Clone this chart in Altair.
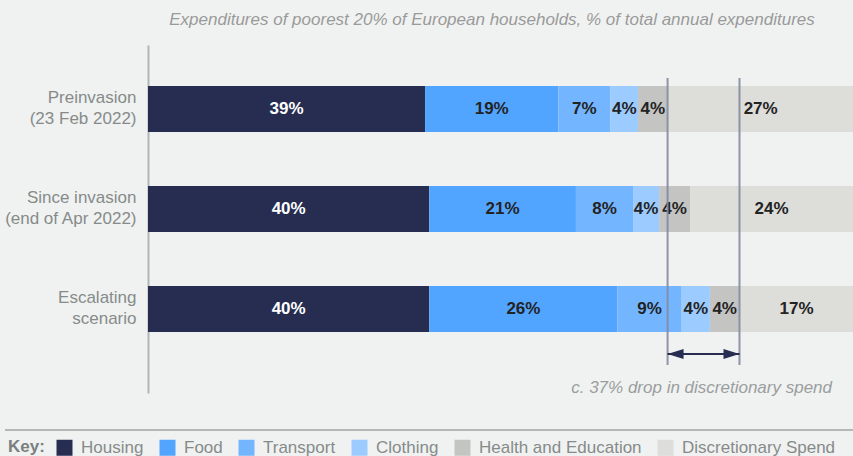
import altair as alt
import pandas as pd

# ---- data ----
scenarios = ["Preinvasion|(23 Feb 2022)", "Since invasion|(end of Apr 2022)", "Escalating|scenario"]
categories = ["Housing", "Food", "Transport", "Clothing", "Health and Education", "Discretionary Spend"]
colors = ["#262d51", "#52a5ff", "#74b5ff", "#9ccbff", "#c4c4c2", "#ddddda"]

values_pre = [39.3, 18.9, 7.4, 3.9, 4.2, 26.4]
values_since = [39.9, 20.8, 8.1, 3.7, 4.4, 23.1]
values_esc = [39.9, 26.7, 9.1, 4.0, 4.2, 16.2]

labels_pre = ["39%", "19%", "7%", "4%", "4%", "27%"]
labels_since = ["40%", "21%", "8%", "4%", "4%", "24%"]
labels_esc = ["40%", "26%", "9%", "4%", "4%", "17%"]

title_text = "Expenditures of poorest 20% of European households, % of total annual expenditures"
caption_text = "c. 37% drop in discretionary spend"

# ---- build table ----
rows = []
for scen, vals, labs in zip(scenarios, [values_pre, values_since, values_esc],
                            [labels_pre, labels_since, labels_esc]):
    start = 0.0
    for cat, v, lab in zip(categories, vals, labs):
        rows.append({"scenario": scen, "category": cat, "start": start,
                     "end": start + v, "mid": start + v / 2, "label": lab})
        start += v
df = pd.DataFrame(rows)

health_end = df[df["category"] == "Health and Education"].set_index("scenario")["end"]
ann = pd.DataFrame({"x": [health_end[scenarios[0]], health_end[scenarios[2]]]})
arrow = pd.DataFrame({"x": [health_end[scenarios[0]]], "x2": [health_end[scenarios[2]]]})

FONT = "Liberation Sans"
W, H = 705, 348

yenc = alt.Y("scenario:N", sort=scenarios,
             scale=alt.Scale(paddingInner=0.54, paddingOuter=0.51, align=0.402),
             axis=alt.Axis(title=None, labelExpr="split(datum.label, '|')",
                           labelFont=FONT, labelFontSize=17, labelColor="#868b8a",
                           labelLineHeight=21, labelOffset=-11, ticks=False,
                           domainColor="#b3b5b5", domainWidth=2, labelPadding=12,
                           grid=False))
xscale = alt.Scale(domain=[0, 100], nice=False, zero=True)

bars = alt.Chart(df).mark_bar(size=46).encode(
    x=alt.X("start:Q", scale=xscale, axis=None),
    x2="end:Q",
    y=yenc,
    color=alt.Color("category:N", sort=categories,
                    scale=alt.Scale(domain=categories, range=colors),
                    legend=alt.Legend(
                        title="Key:", titleOrient="left", orient="none",
                        direction="horizontal", legendX=-140, legendY=394,
                        titleFont=FONT, titleFontSize=17, titleFontWeight="bold",
                        titleColor="#7a7f7f", titlePadding=11,
                        labelFont=FONT, labelFontSize=17, labelColor="#868b8a",
                        symbolType="square", symbolSize=256, symbolStrokeWidth=0,
                        symbolOpacity=1, labelOffset=8, columnPadding=15,
                        padding=0, labelLimit=300)),
)

texts = alt.Chart(df).mark_text(font=FONT, fontSize=17, fontWeight="bold").encode(
    x=alt.X("mid:Q", scale=xscale),
    y=alt.Y("scenario:N", sort=scenarios),
    text="label:N",
    color=alt.condition(alt.datum.category == "Housing", alt.value("#ffffff"), alt.value("#232323")),
)

vlines = alt.Chart(ann).mark_rule(color="#858aa0", strokeWidth=2, opacity=0.9).encode(
    x=alt.X("x:Q", scale=xscale), y=alt.value(33), y2=alt.value(320))

arrow_line = alt.Chart(arrow).mark_rule(color="#262d51", strokeWidth=2).encode(
    x=alt.X("x:Q", scale=xscale), x2="x2:Q", y=alt.value(309))
head_l = alt.Chart(arrow).mark_point(shape="M-1,0L1,-0.625L1,0.625Z", filled=True, size=256,
                                     color="#262d51", opacity=1, xOffset=8).encode(
    x=alt.X("x:Q", scale=xscale), y=alt.value(309))
head_r = alt.Chart(arrow).mark_point(shape="M1,0L-1,-0.625L-1,0.625Z", filled=True, size=256,
                                     color="#262d51", opacity=1, xOffset=-8).encode(
    x=alt.X("x2:Q", scale=xscale), y=alt.value(309))

caption = alt.Chart(pd.DataFrame({"t": [caption_text]})).mark_text(
    font=FONT, fontSize=17, fontStyle="italic", color="#9a9e9e", align="right",
    baseline="middle").encode(x=alt.value(684), y=alt.value(343), text="t:N")

title = alt.Chart(pd.DataFrame({"t": [title_text]})).mark_text(
    font=FONT, fontSize=17, fontStyle="italic", color="#9a9a9a", align="center",
    baseline="middle").encode(x=alt.value(344), y=alt.value(-25), text="t:N")

sep = alt.Chart(pd.DataFrame({"a": [0]})).mark_rule(color="#a3a5a5", strokeWidth=1.5).encode(
    x=alt.value(-143), x2=alt.value(705), y=alt.value(385))

chart = alt.layer(bars, texts, vlines, arrow_line, head_l, head_r, caption, title, sep).properties(
    width=W, height=H,
    autosize=alt.AutoSizeParams(type="none"),
    padding={"left": 148, "top": 45, "right": 0, "bottom": 63},
    background="#f0f2f1",
).configure_view(stroke=None)

chart.save("out.html", embed_options={"renderer": "svg", "actions": False})
